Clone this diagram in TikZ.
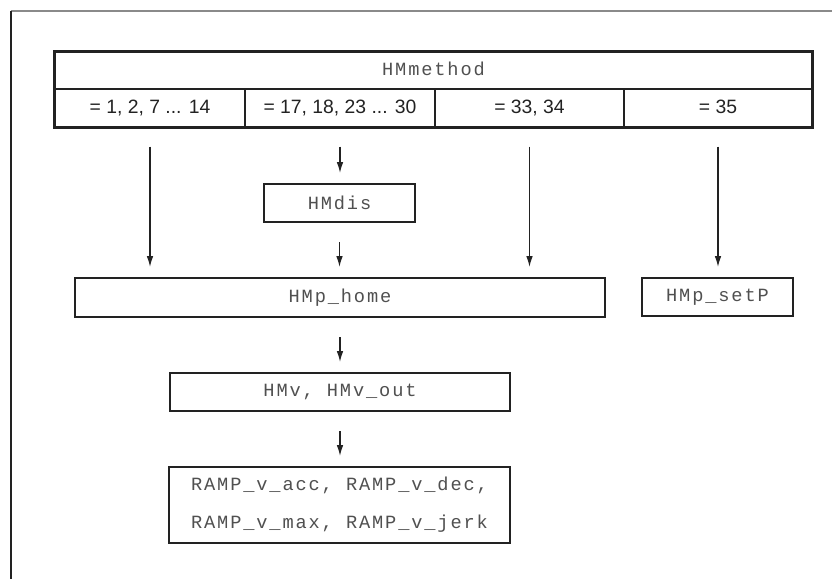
\documentclass[tikz,border=0pt]{standalone}
\usepackage{fontspec}
\setmainfont{Liberation Sans}
\setmonofont{Liberation Mono}[LetterSpace=10]
\usetikzlibrary{arrows.meta}
\definecolor{ink}{HTML}{222222}
\definecolor{txt}{HTML}{505050}
\definecolor{frame}{HTML}{8A8A8A}
\tikzset{
  box/.style={draw=ink, line width=1.5pt, fill=white, inner sep=0pt, text=txt,
    font=\ttfamily\fontsize{14}{28.5}\selectfont, align=center},
  cell/.style={draw=ink, line width=0.8pt, inner sep=0pt, minimum height=28.5pt,
    text height=10.5pt, text depth=3pt,
    text=ink, font=\fontsize{14.5}{17}\selectfont},
  arr/.style={draw=ink, line width=1pt, -{Latex[length=8.25pt,width=5pt]},
    shorten <=14.25pt, shorten >=7.5pt}
}
\begin{document}
\begin{tikzpicture}[x=0.75pt,y=-0.75pt]
\useasboundingbox (0,0) rectangle (832,579);
% outer frame
\coordinate (ftl) at (10.5,11);
\coordinate (fr) at (832,11);
\coordinate (fb) at (10.5,579);
\draw[frame, line width=1.5pt] (ftl) -- (fr);
\draw[ink, line width=1.5pt] (ftl) -- (fb);
% table
\node[cell, minimum width=567.75pt, minimum height=27.75pt, text=txt, font=\ttfamily\fontsize{14}{17}\selectfont] (title) at (433.5,70.5) {HMmethod};
\node[cell, minimum width=142.5pt] (c1) at (150,108) {= 1, 2, 7 ... 14};
\node[cell, minimum width=142.5pt] (c2) at (340,108) {= 17, 18, 23 ... 30};
\node[cell, minimum width=141.75pt] (c3) at (529.5,108) {= 33, 34};
\node[cell, minimum width=141pt] (c4) at (718,108) {= 35};
\draw[ink, line width=1.5pt] (title.north west) rectangle (c4.south east);
% boxes
\node[box, minimum width=113.25pt, minimum height=28.5pt] (hmdis) at (339.5,203) {HMdis};
\node[box, minimum width=397.5pt, minimum height=29.25pt] (home) at (340,297.5) {HMp\_home};
\node[box, minimum width=113.25pt, minimum height=28.5pt] (setp) at (717.5,297) {HMp\_setP};
\node[box, minimum width=255pt, minimum height=28.5pt] (hmv) at (340,392) {HMv, HMv\_out};
\node[box, minimum width=255.75pt, minimum height=57pt] (ramp) at (339.5,505) {RAMP\_v\_acc, RAMP\_v\_dec,\\RAMP\_v\_max, RAMP\_v\_jerk};
% arrows
\draw[arr] (c1.south) -- (c1.south |- home.north);
\draw[arr] (c2.south) -- (c2.south |- hmdis.north);
\draw[arr] (hmdis.south) -- (hmdis.south |- home.north);
\draw[arr] (c3.south) -- (c3.south |- home.north);
\draw[arr] (c4.south) -- (c4.south |- setp.north);
\draw[arr] (home.south -| hmv.north) -- (hmv.north);
\draw[arr] (hmv.south) -- (hmv.south |- ramp.north);
\end{tikzpicture}
\end{document}
